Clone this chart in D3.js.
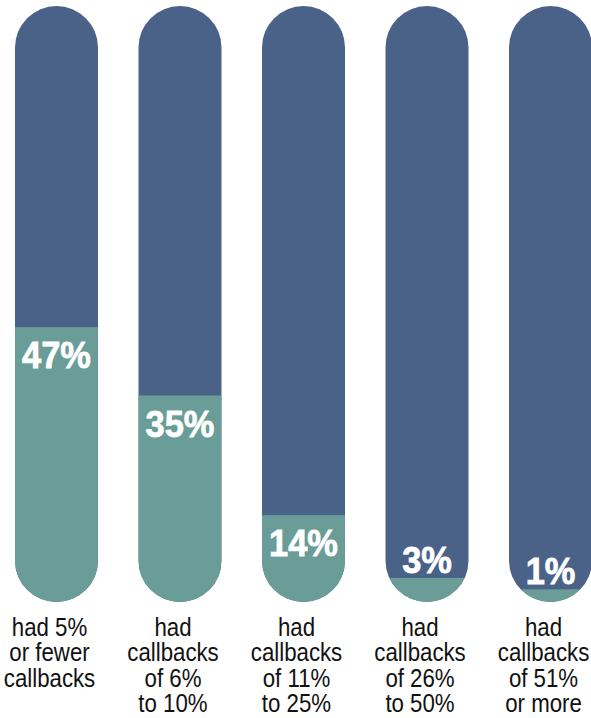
<!DOCTYPE html>
<html>
<head>
<meta charset="utf-8">
<script src="https://cdn.jsdelivr.net/npm/d3@7"></script>
<style>
	body { margin: 0; background: #fff; }
	svg { display: block; }
</style>
</head>
<body>
<div id="chart"></div>
<script>
// data
const groups = ["g1", "g2", "g3", "g4", "g5"];
const shares = [47, 35, 14, 3, 1];
const captions = [
	["had 5%", "or fewer", "callbacks"],
	["had", "callbacks", "of 6%", "to 10%"],
	["had", "callbacks", "of 11%", "to 25%"],
	["had", "callbacks", "of 26%", "to 50%"],
	["had", "callbacks", "of 51%", "or more"],
];

const width = 591;
const height = 718;
const barTop = 6;
const barBottom = 602;

const svg = d3
	.select("#chart")
	.append("svg")
	.attr("width", width)
	.attr("height", height);

// bands for the five pills
const x = d3.scaleBand().domain(groups).range([15, 592]).paddingInner(0.328).paddingOuter(0);
// teal fill height
const y = d3.scaleLinear().domain([0, 100]).range([595, 25]);

const bw = x.bandwidth();
const r = bw / 2;

const data = groups.map((g, i) => ({ key: g, share: shares[i], caption: captions[i] }));

// clip paths so the fill follows the rounded shape
const defs = svg.append("defs");
defs
	.selectAll("clipPath")
	.data(data)
	.join("clipPath")
	.attr("id", (d) => "clip-" + d.key)
	.append("rect")
	.attr("x", (d) => x(d.key))
	.attr("y", barTop)
	.attr("width", bw)
	.attr("height", barBottom - barTop)
	.attr("rx", r)
	.attr("ry", r);

const bar = svg.selectAll("g.bar").data(data).join("g").attr("class", "bar");

bar
	.append("rect")
	.attr("x", (d) => x(d.key))
	.attr("y", barTop)
	.attr("width", bw)
	.attr("height", barBottom - barTop)
	.attr("rx", r)
	.attr("ry", r)
	.attr("fill", "#4b6288");

bar
	.append("rect")
	.attr("clip-path", (d) => "url(#clip-" + d.key + ")")
	.attr("x", (d) => x(d.key))
	.attr("y", (d) => y(d.share))
	.attr("width", bw)
	.attr("height", (d) => barBottom - y(d.share) + 2)
	.attr("fill", "#6a9d98");

// value labels, inside the fill or just above it when it is too small
// (no narrow font installed, so squeeze horizontally)
bar
	.append("text")
	.attr("transform", (d) => {
		const ty = barBottom - y(d.share) > 50 ? y(d.share) + 41 : y(d.share) - 5;
		return `translate(${x(d.key) + r}, ${ty}) scale(0.93, 1)`;
	})
	.attr("text-anchor", "middle")
	.style("font-family", "'Liberation Sans', Arial, sans-serif")
	.style("font-weight", "bold")
	.style("font-size", "37px")
	.style("fill", "#fff")
	.style("stroke", "#fff")
	.style("stroke-width", 0.8)
	.text((d) => d.share + "%");

// captions under the pills, sitting a little left of the pill centre
bar
	.append("text")
	.attr("transform", (d) => `translate(${x(d.key) + r - 7}, 0) scale(0.89, 1)`)
	.attr("text-anchor", "middle")
	.style("font-family", "'Liberation Sans', Arial, sans-serif")
	.style("font-size", "25px")
	.style("fill", "#111")
	.selectAll("tspan")
	.data((d) => d.caption)
	.join("tspan")
	.attr("x", 0)
	.attr("y", (t, i) => 636 + i * 25.5)
	.text((t) => t);
</script>
</body>
</html>
